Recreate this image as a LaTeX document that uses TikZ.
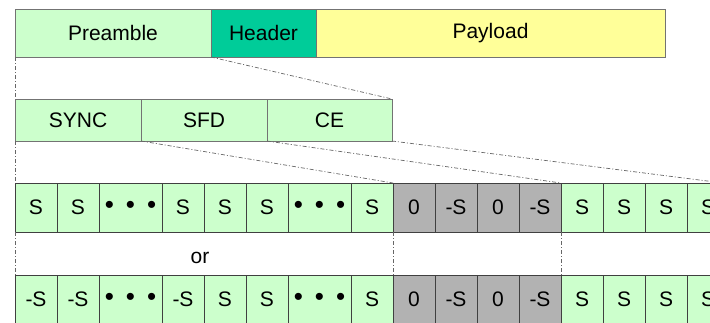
\documentclass[tikz,border=0pt]{standalone}
\usepackage{fontspec}
\setmainfont{Liberation Sans}
\usetikzlibrary{positioning}

\definecolor{lgreen}{HTML}{CCFFCC}
\definecolor{teal}{HTML}{00CC99}
\definecolor{lyellow}{HTML}{FFFF99}
\definecolor{lgray}{HTML}{B2B2B2}

\newcommand{\bul}{\raisebox{-2pt}{\fontsize{26}{26}\selectfont •\hspace{12pt}•\hspace{12pt}•}}

\tikzset{
  field/.style={draw=black!55, line width=1pt, outer sep=0pt, minimum height=48pt,
    inner sep=0pt, font=\fontsize{21}{25}\selectfont},
  cell/.style={draw=black!75, line width=0.9pt, outer sep=0pt, minimum height=49pt,
    inner sep=0pt, font=\fontsize{21}{25}\selectfont},
  guide/.style={black!60, line width=0.7pt, dash pattern=on 4pt off 2pt on 1pt off 2pt}
}

\begin{document}
\begin{tikzpicture}[x=1pt,y=-1pt]
  \clip (0,0) rectangle (710,322);

  % frame
  \node[field, fill=lgreen, minimum width=196pt, anchor=north west] (pre) at (15,9) {Preamble};
  \node[field, fill=teal, minimum width=105pt, right=0pt of pre] (hdr) {Header};
  \node[field, fill=lyellow, minimum width=349pt, right=0pt of hdr] (pay) {Payload};

  % preamble fields
  \node[field, fill=lgreen, minimum width=126pt, minimum height=42pt, anchor=north west] (sync) at (15,99) {SYNC};
  \node[field, fill=lgreen, minimum width=126pt, minimum height=42pt, right=0pt of sync] (sfd) {SFD};
  \node[field, fill=lgreen, minimum width=125pt, minimum height=42pt, right=0pt of sfd] (ce) {CE};

  % symbol rows
  \foreach \row/\y/\s in {a/183/,b/275/-}{
    \foreach \lab/\w/\fc [count=\i] in {\s S/42/lgreen,\s S/42/lgreen,\bul/63/lgreen,\s S/42/lgreen,
        S/42/lgreen,S/42/lgreen,\bul/63/lgreen,S/42/lgreen,
        0/42/lgray,-S/42/lgray,0/42/lgray,-S/42/lgray,
        S/42/lgreen,S/42/lgreen,S/42/lgreen,S/42/lgreen}{
      \ifnum\i=1
        \node[cell, fill=\fc, minimum width=\w pt, anchor=north west] (\row\i) at (15,\y) {\lab};
      \else
        \pgfmathtruncatemacro\prev{\i-1}
        \node[cell, fill=\fc, minimum width=\w pt, right=0pt of \row\prev] (\row\i) {\lab};
      \fi
    }
  }
  \node[font=\fontsize{21}{25}\selectfont] (or) at (200,258) {or};

  % guides
  \coordinate (ceend) at (723,183);
  \draw[guide] (pre.south west) -- (sync.north west);
  \draw[guide] (hdr.south west) -- (ce.north east);
  \draw[guide] (sync.south west) -- (a1.north west);
  \draw[guide] (sync.south east) -- (a8.north east);
  \draw[guide] (sfd.south east) -- (a12.north east);
  \draw[guide] (ce.south east) -- (ceend);
  \draw[guide] (a1.south west) -- (b1.north west);
  \draw[guide] (a8.south east) -- (b8.north east);
  \draw[guide] (a12.south east) -- (b12.north east);
\end{tikzpicture}
\end{document}
